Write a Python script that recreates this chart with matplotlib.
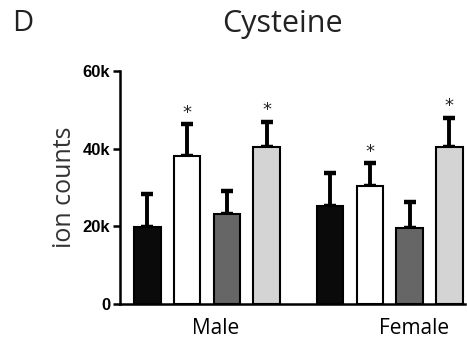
import matplotlib
matplotlib.use('Agg')
import matplotlib.pyplot as plt
import numpy as np

# Données (ion counts)
groups = ['Male', 'Female']
male_means = [19900, 38000, 23300, 40400]
male_err = [8300, 8200, 5800, 6500]
female_means = [25200, 30400, 19600, 40400]
female_err = [8600, 5800, 6700, 7500]
male_sig = [False, True, False, True]
female_sig = [False, True, False, True]
bar_colors = ['#0a0a0a', '#ffffff', '#666666', '#d4d4d4']

fig = plt.figure(figsize=(4.67, 3.39), dpi=100)
ax = fig.add_axes([0.257, 0.103, 0.739, 0.688])

# Positions des barres
pos_male = np.arange(4)
pos_female = np.arange(4) + 4.6
width = 0.67

means = male_means + female_means
errs = male_err + female_err
sig = male_sig + female_sig
pos = np.concatenate([pos_male, pos_female])
cols = bar_colors + bar_colors

ax.bar(pos, means, width=width, color=cols, edgecolor='black', linewidth=1.5, zorder=2)
ax.errorbar(pos, means, yerr=[np.zeros(len(errs)), errs], fmt='none',
            ecolor='black', elinewidth=2.8, capsize=4.5, capthick=3.2, zorder=1)

for p, m, e, s in zip(pos, means, errs, sig):
    if s:
        ax.text(p, m + e + 700, '*', ha='center', va='bottom', fontsize=13,
                fontfamily='DejaVu Sans', color='#222222')

ax.set_xlim(-0.69, 8.0)
ax.set_ylim(0, 60000)
ax.set_yticks([0, 20000, 40000, 60000])
ax.set_yticklabels(['0', '20k', '40k', '60k'], fontfamily='Liberation Sans',
                   fontweight='bold', fontsize=12)
# les libellés de groupe sont un peu décalés vers la droite dans l'original
ax.set_xticks([pos_male.mean() + 0.21, pos_female.mean() + 0.61])
ax.set_xticklabels(groups, fontfamily='Open Sans', fontsize=15)
ax.tick_params(axis='x', length=0, pad=10)
ax.tick_params(axis='y', length=5, width=1.8, pad=2)

for side in ['top', 'right']:
    ax.spines[side].set_visible(False)
for side in ['left', 'bottom']:
    ax.spines[side].set_linewidth(1.8)

ax.set_ylabel('ion counts', fontfamily='Open Sans', fontsize=18, color='#333333', labelpad=4)

fig.text(0.605, 0.93, 'Cysteine', ha='center', va='center', fontfamily='Open Sans',
         fontsize=22, color='#222222')
fig.text(0.025, 0.93, 'D', ha='left', va='center', fontfamily='Open Sans',
         fontsize=21, color='#222222')

fig.savefig('out.png', dpi=100)
